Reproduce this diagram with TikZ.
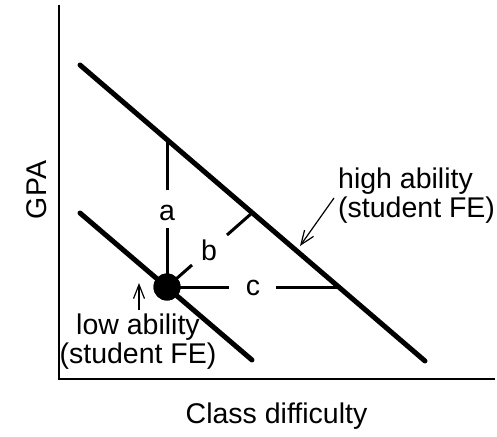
\documentclass[tikz,border=0pt]{standalone}
\usepackage{fontspec}
\setmainfont{Liberation Sans}
\usetikzlibrary{arrows.meta}
\begin{document}
\begin{tikzpicture}[x=1pt,y=-1pt,
  axisline/.style={line width=1.5pt},
  heavyline/.style={line width=5pt,line cap=round},
  gapline/.style={line width=3pt},
  pointer/.style={line width=1.2pt,-{Straight Barb[length=14pt,width=11pt]}},
  lbl/.style={inner sep=0pt,font=\fontsize{28.5}{28.6}\selectfont}]
\useasboundingbox (0,0) rectangle (497,436);
% axes
\coordinate (ytop) at (59,5);
\coordinate (orig) at (59,379);
\coordinate (xend) at (495,379);
\draw[axisline] (ytop) -- (orig) -- (xend);
% ability lines
\coordinate (u1) at (80,65);
\coordinate (u2) at (425,361);
\coordinate (l1) at (80,213);
\coordinate (l2) at (252,360);
\draw[heavyline] (u1) -- (u2);
\draw[heavyline] (l1) -- (l2);
% dot
\node[circle,fill=black,inner sep=0pt,minimum size=27pt] (dot) at (167,287) {};
% a
\coordinate (atop) at (167,140);
\coordinate (agap1) at (167,228);
\coordinate (agap2) at (167,190);
\node[lbl] (a) at (167,213.3) {a};
\draw[gapline] (dot.center) -- (agap1);
\draw[gapline] (agap2) -- (atop);
% b
\coordinate (btop) at (252,213);
\coordinate (bgap1) at (192,265);
\coordinate (bgap2) at (227,235);
\node[lbl] (b) at (209,250) {b};
\draw[gapline] (dot.center) -- (bgap1);
\draw[gapline] (bgap2) -- (btop);
% c
\coordinate (ctop) at (338,287);
\coordinate (cgap1) at (229,287);
\coordinate (cgap2) at (276,287);
\node[lbl] (c) at (253,288) {c};
\draw[gapline] (dot.center) -- (cgap1);
\draw[gapline] (cgap2) -- (ctop);
\node[circle,fill=black,inner sep=0pt,minimum size=27pt] at (dot) {};
% labels
\node[lbl,align=center,anchor=north] (low) at (138,313.9) {low ability\\(student FE)};
\coordinate (lowtail) at (139,310);
\coordinate (lowtip) at (139,283);
\draw[pointer] (lowtail) -- (lowtip);
\node[lbl,align=left,anchor=north west] (high) at (338,167.9) {high ability\\(student FE)};
\coordinate (hightail) at (334,198);
\coordinate (hightip) at (300,246);
\draw[pointer] (hightail) -- (hightip);
\node[lbl,rotate=90] (gpa) at (36.5,190) {GPA};
\node[lbl,anchor=base] (xlab) at (276.5,423.3) {Class difficulty};
\end{tikzpicture}
\end{document}
